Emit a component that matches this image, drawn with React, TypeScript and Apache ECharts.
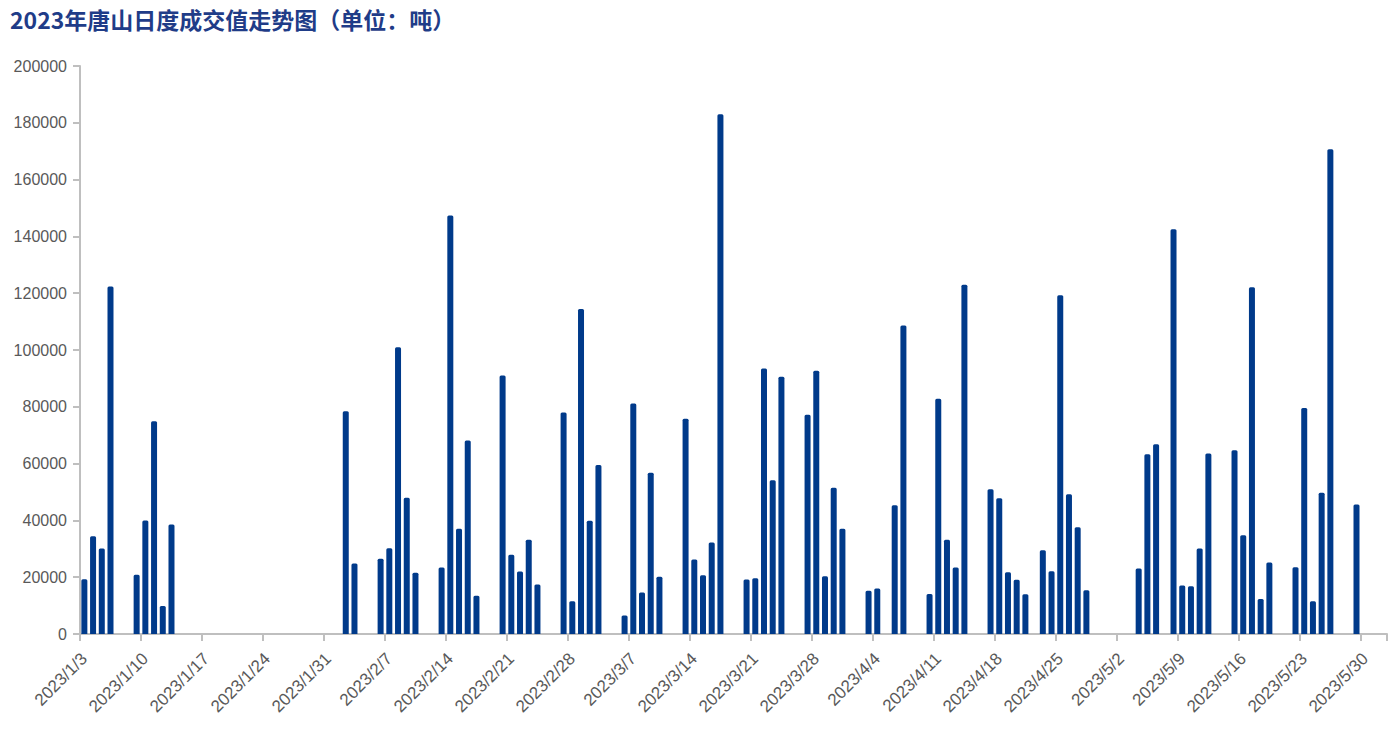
import React, { useEffect, useRef } from "react";
import * as echarts from "echarts";

const TITLE = "2023年唐山日度成交值走势图（单位：吨）";

// trading dates with reported volume
const tradeDates = [
  "2023/1/3", "2023/1/4", "2023/1/5", "2023/1/6",
  "2023/1/9", "2023/1/10", "2023/1/11", "2023/1/12", "2023/1/13",
  "2023/2/2", "2023/2/3",
  "2023/2/6", "2023/2/7", "2023/2/8", "2023/2/9", "2023/2/10",
  "2023/2/13", "2023/2/14", "2023/2/15", "2023/2/16", "2023/2/17",
  "2023/2/20", "2023/2/21", "2023/2/22", "2023/2/23", "2023/2/24",
  "2023/2/27", "2023/2/28", "2023/3/1", "2023/3/2", "2023/3/3",
  "2023/3/6", "2023/3/7", "2023/3/8", "2023/3/9", "2023/3/10",
  "2023/3/13", "2023/3/14", "2023/3/15", "2023/3/16", "2023/3/17",
  "2023/3/20", "2023/3/21", "2023/3/22", "2023/3/23", "2023/3/24",
  "2023/3/27", "2023/3/28", "2023/3/29", "2023/3/30", "2023/3/31",
  "2023/4/3", "2023/4/4", "2023/4/6", "2023/4/7",
  "2023/4/10", "2023/4/11", "2023/4/12", "2023/4/13", "2023/4/14",
  "2023/4/17", "2023/4/18", "2023/4/19", "2023/4/20", "2023/4/21",
  "2023/4/23", "2023/4/24", "2023/4/25", "2023/4/26", "2023/4/27", "2023/4/28",
  "2023/5/4", "2023/5/5", "2023/5/6",
  "2023/5/8", "2023/5/9", "2023/5/10", "2023/5/11", "2023/5/12",
  "2023/5/15", "2023/5/16", "2023/5/17", "2023/5/18", "2023/5/19",
  "2023/5/22", "2023/5/23", "2023/5/24", "2023/5/25", "2023/5/26",
  "2023/5/29",
];

const volumes = [
  19300, 34400, 30100, 122400,
  20900, 40000, 74900, 9900, 38600,
  78400, 24800,
  26500, 30200, 101000, 48000, 21600,
  23400, 147400, 37100, 68100, 13500,
  91000, 27900, 22000, 33200, 17400,
  78000, 11500, 114400, 39900, 59500,
  6500, 81200, 14600, 56800, 20200,
  75800, 26200, 20700, 32200, 183000,
  19200, 19600, 93500, 54100, 90600,
  77200, 92700, 20300, 51500, 37100,
  15200, 16000, 45300, 108600,
  14100, 82800, 33200, 23400, 123000,
  51000, 47800, 21700, 19100, 14000,
  29500, 22100, 119300, 49200, 37600, 15400,
  23100, 63300, 66800,
  142500, 17100, 16800, 30100, 63600,
  64700, 34800, 122100, 12300, 25200,
  23500, 79600, 11500, 49700, 170700,
  45600,
];

// calendar range shown on the axis
const AXIS_START = [2023, 0, 3];
const AXIS_DAYS = 150;

const Y_MIN = 0;
const Y_MAX = 200000;
const Y_STEP = 20000;

function buildCategories(): string[] {
  const out: string[] = [];
  for (let i = 0; i < AXIS_DAYS; i++) {
    const d = new Date(AXIS_START[0], AXIS_START[1], AXIS_START[2] + i);
    out.push(`${d.getFullYear()}/${d.getMonth() + 1}/${d.getDate()}`);
  }
  return out;
}

export default function App() {
  const ref = useRef<HTMLDivElement>(null);

  useEffect(() => {
    if (!ref.current) return;
    const chart = echarts.init(ref.current, null, { renderer: "svg" });
    const categories = buildCategories();
    const lookup = new Map<string, number>();
    tradeDates.forEach((d, i) => lookup.set(d, volumes[i]));
    const seriesData = categories.map((c) => (lookup.has(c) ? lookup.get(c)! : null));

    const axisGray = "#bfbfbf";
    const labelGray = "#595959";
    const font = "'Liberation Sans', Arial, sans-serif";

    chart.setOption({
      animation: false,
      backgroundColor: "#ffffff",
      title: {
        text: TITLE,
        left: 10,
        top: 7,
        padding: 0,
        textStyle: {
          fontSize: 23,
          fontWeight: "bold",
          color: "#1f3c88",
          fontFamily: "'Noto Sans CJK SC', sans-serif",
        },
      },
      grid: {
        left: 80,
        top: 66,
        width: 1307,
        height: 568,
        containLabel: false,
      },
      xAxis: {
        type: "category",
        data: categories,
        boundaryGap: true,
        axisLine: { show: true, lineStyle: { color: axisGray, width: 2 } },
        axisTick: {
          show: true,
          interval: 6,
          length: 7,
          lineStyle: { color: axisGray, width: 2 },
        },
        axisLabel: {
          interval: 6,
          rotate: 45,
          margin: 22,
          fontSize: 17,
          color: labelGray,
          fontFamily: font,
        },
        splitLine: { show: false },
      },
      yAxis: {
        type: "value",
        min: Y_MIN,
        max: Y_MAX,
        interval: Y_STEP,
        axisLine: { show: true, lineStyle: { color: axisGray, width: 2 } },
        axisTick: {
          show: true,
          length: 7,
          lineStyle: { color: axisGray, width: 2 },
        },
        axisLabel: {
          margin: 13,
          fontSize: 16,
          color: labelGray,
          fontFamily: font,
          formatter: (v: number) => String(v),
        },
        splitLine: { show: false },
      },
      series: [
        {
          type: "bar",
          data: seriesData,
          barWidth: 6,
          itemStyle: { color: "#003a8a", borderRadius: [1.5, 1.5, 0, 0] },
        },
      ],
    });

    return () => chart.dispose();
  }, []);

  return (
    <div
      ref={ref}
      style={{ position: "absolute", left: 0, top: 0, width: 1392, height: 745 }}
    />
  );
}
